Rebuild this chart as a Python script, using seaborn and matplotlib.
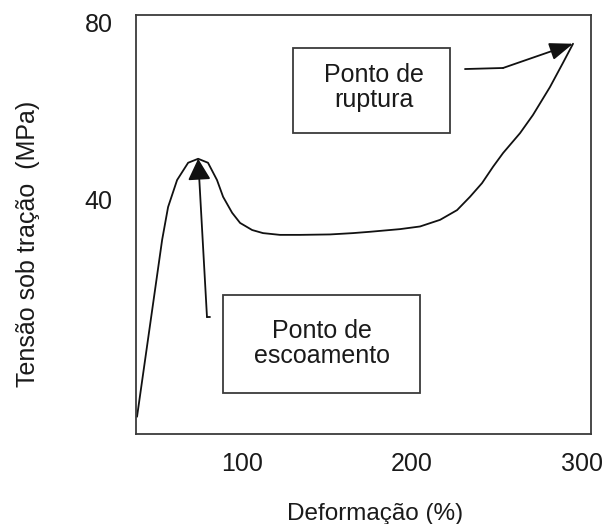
import matplotlib
matplotlib.use("Agg")
import matplotlib.pyplot as plt
import seaborn as sns
import pandas as pd
import numpy as np
from matplotlib.patches import Rectangle

# ---- data ----
deformacao = [38.2, 53.0, 56.5, 61.8, 68.3, 74.2, 80.0, 85.3, 88.9, 94.2, 98.9,
              106.0, 112.4, 122.4, 134.2, 151.9, 165.4, 175.4, 193.1, 204.9,
              216.7, 226.7, 234.3, 241.4, 247.9, 253.8, 263.8, 271.4, 281.4,
              289.1, 295.0]
tensao = [-9.0, 31.0, 38.4, 44.5, 48.4, 49.3, 48.4, 44.5, 40.7, 37.1, 34.8,
          33.2, 32.5, 32.1, 32.1, 32.2, 32.5, 32.8, 33.4, 34.0,
          35.5, 37.7, 40.7, 43.8, 47.5, 50.6, 55.1, 59.2, 65.5,
          71.0, 75.3]
x_ticks = [100, 200, 300]
y_ticks = [40, 80]
xlabel = "Deformação (%)"
ylabel = "Tensão sob tração  (MPa)"
label_yield = "Ponto de\nescoamento"
label_rupture = "Ponto de\nruptura"

df = pd.DataFrame({"x": deformacao, "y": tensao})

sns.set_theme(style="white")
plt.rcParams["font.family"] = ["Liberation Sans", "DejaVu Sans"]

fig = plt.figure(figsize=(6.05, 5.24), dpi=100)
ax = fig.add_axes([0.2248, 0.1718, 0.9769 - 0.2248, 0.9714 - 0.1718])

sns.lineplot(data=df, x="x", y="y", sort=False, color="#111111",
             linewidth=1.3, ax=ax)

ax.set_xlim(37.6, 305.6)
ax.set_ylim(-12.9, 81.8)
ax.set_xticks(x_ticks)
ax.set_yticks(y_ticks)
ax.tick_params(axis="both", length=0, labelsize=18, colors="#1a1a1a")
ax.tick_params(axis="y", pad=17)
ax.tick_params(axis="x", pad=13)
for s in ax.spines.values():
    s.set_color("#3a3a3a")
    s.set_linewidth(1.3)

ax.set_xlabel(xlabel, fontsize=17.5, color="#1a1a1a")
ax.set_ylabel(ylabel, fontsize=18, color="#1a1a1a")
ax.xaxis.set_label_coords(0.525, -0.205)
ax.xaxis.label.set_va("baseline")
ax.yaxis.set_label_coords(-0.237, 0.453)
ax.yaxis.label.set_va("center")

# ---- annotations ----
peak_i = int(np.argmax(tensao[:12]))
peak = (deformacao[peak_i], tensao[peak_i])
end = (deformacao[-1], tensao[-1])

# yield point arrow
ax.plot([0.156, 0.163], [0.279, 0.279], transform=ax.transAxes,
        color="#111111", lw=1.3)
ax.annotate("", xy=peak, xycoords="data", xytext=(0.156, 0.279),
            textcoords="axes fraction",
            arrowprops=dict(arrowstyle="-|>,head_length=0.65,head_width=0.35",
                            mutation_scale=20, color="#111111", lw=1.3,
                            shrinkA=0, shrinkB=0))

# rupture point arrow
ax.plot([0.723, 0.8066], [0.871, 0.8735], transform=ax.transAxes,
        color="#111111", lw=1.3)
ax.annotate("", xy=end, xycoords="data", xytext=(0.8066, 0.8735),
            textcoords="axes fraction",
            arrowprops=dict(arrowstyle="-|>,head_length=0.72,head_width=0.27",
                            mutation_scale=20, color="#111111", lw=1.3,
                            shrinkA=0, shrinkB=0))

# boxes
ax.add_patch(Rectangle((0.3451, 0.7184), 0.3451, 0.2029, transform=ax.transAxes,
                       fill=False, edgecolor="#3a3a3a", lw=1.3))
ax.text(0.522, 0.826, label_rupture, transform=ax.transAxes, ha="center",
        va="center", fontsize=18, color="#1a1a1a", linespacing=1.05)

ax.add_patch(Rectangle((0.1912, 0.0979), 0.433, 0.2339, transform=ax.transAxes,
                       fill=False, edgecolor="#3a3a3a", lw=1.3))
ax.text(0.409, 0.215, label_yield, transform=ax.transAxes, ha="center",
        va="center", fontsize=18, color="#1a1a1a", linespacing=1.05)

fig.savefig("out.png", dpi=100, facecolor="white")
